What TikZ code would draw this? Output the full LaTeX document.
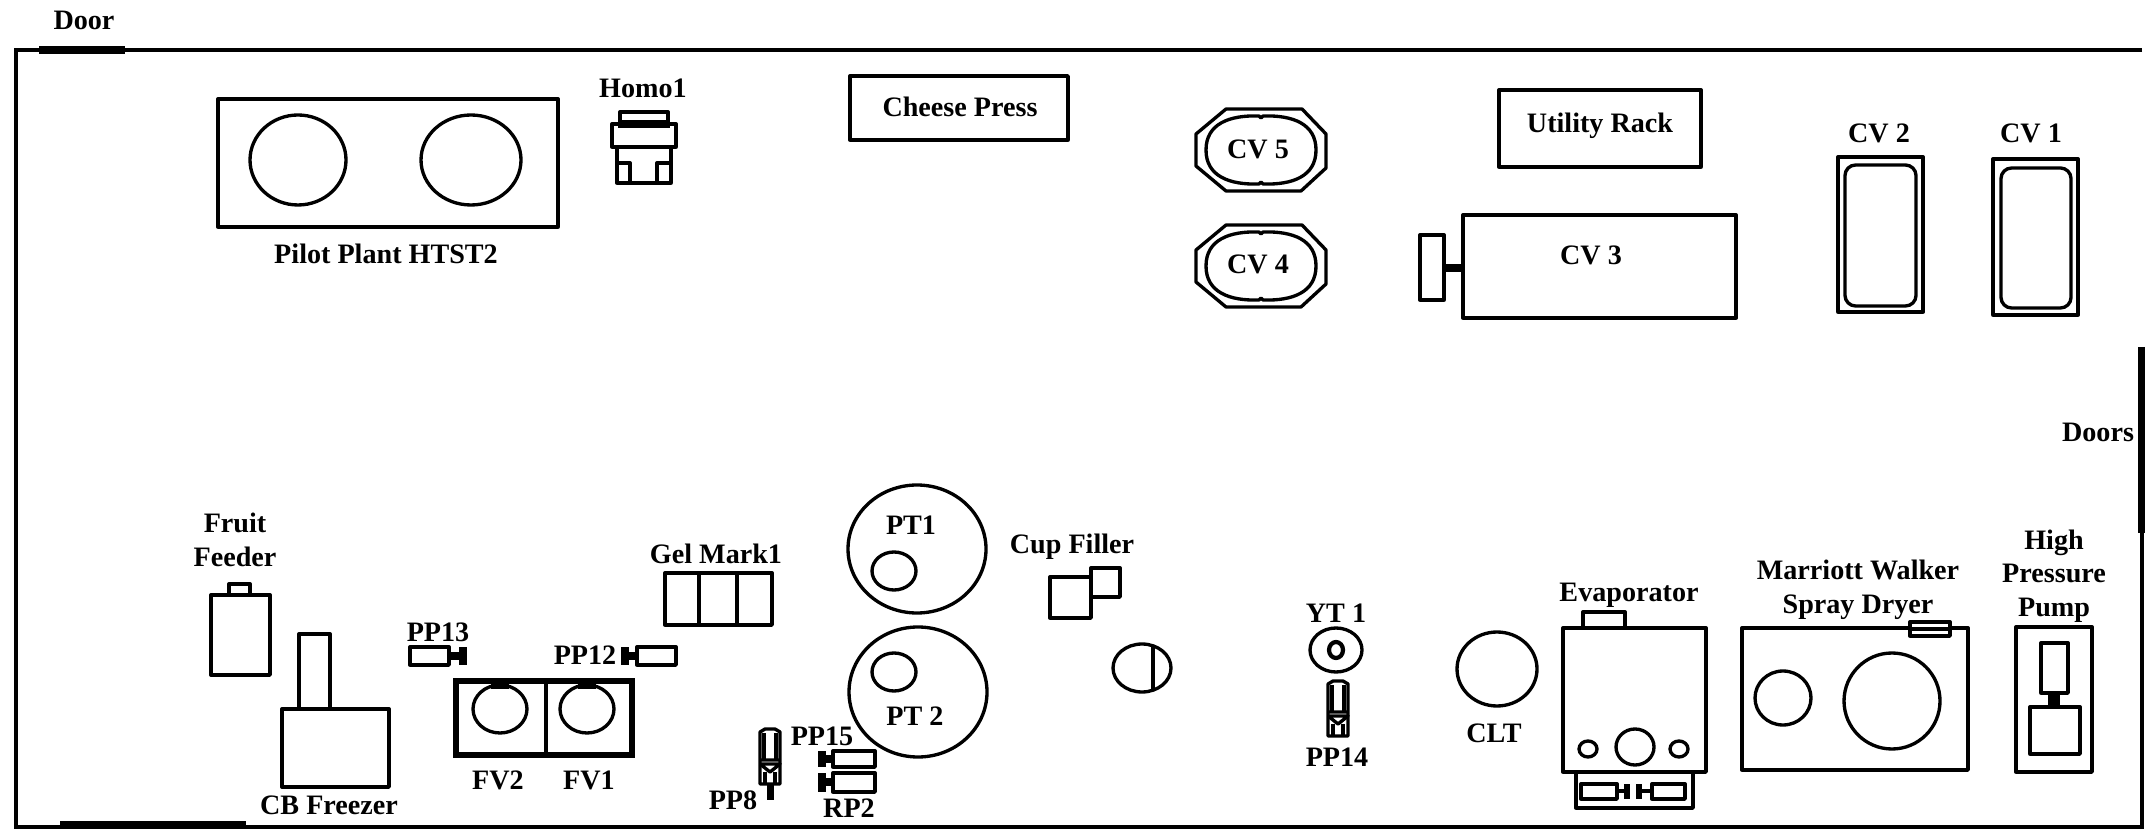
\documentclass[tikz,border=0pt]{standalone}
\usepackage{fontspec}
\setmainfont{Liberation Serif}
\tikzset{
  wall/.style={line width=1.1pt},
  doorway/.style={line width=2pt},
  unit/.style={line width=0.95pt,line join=round},
  neck/.style={line width=2.2pt},
  lbl/.style={font=\fontsize{8}{9.6}\selectfont\bfseries,inner sep=0pt,align=center},
  pics/cvpan/.style={code={
    \draw[unit] (-35,-41) -- (41,-41) -- (65,-16) -- (65,18) -- (40,41) -- (-35,41) -- (-65,16) -- (-65,-16) -- cycle;
    \draw[unit] (-55,0) .. controls (-55,-26) and (-32,-35) .. (-2,-34) -- (0,-32) -- (2,-34) .. controls (32,-35) and (55,-26) .. (55,0) .. controls (55,26) and (32,35) .. (2,34) -- (0,32) -- (-2,34) .. controls (-32,35) and (-55,26) .. (-55,0) -- cycle;
  }},
  pics/vpump/.style={code={
    \draw[unit] (-10,-25) -- (-5,-28) -- (5,-28) -- (10,-25) -- (10,27) -- (-10,27) -- cycle;
    \draw[unit] (-6,-24) -- (-6,2) (6,-24) -- (6,2);
    \draw[unit] (-10,3) -- (10,3) (-10,7) -- (10,7) -- (0,15) -- (-10,7);
    \draw[unit] (-5,15) -- (-5,27) (5,15) -- (5,27);
  }}
}
\begin{document}
\begin{tikzpicture}[x=0.01cm,y=-0.01cm]
  \useasboundingbox (0,0) rectangle (2146,831);
  \draw[wall] (2142,50) -- (16,50) -- (16,827) -- (2142,827) -- (2142,347);
  \draw[doorway] (39,50) -- (125,50);
  \draw[doorway] (60,825) -- (246,825);
  \draw[doorway] (2141,347) -- (2141,533);
  \node[lbl] (door) at (84,20) {Door};
  \node[lbl] (doors) at (2098,432) {Doors};

  \draw[unit] (218,99) rectangle (558,227);
  \draw[unit] (298,160) ellipse (48 and 45);
  \draw[unit] (471,160) ellipse (50 and 45);
  \node[lbl] (htst) at (386,254) {Pilot Plant HTST2};

  \node[lbl] (homo) at (643,88) {Homo1};
  \draw[unit] (620,125) -- (620,112) -- (668,112) -- (668,125);
  \draw[neck] (618,124) -- (670,124);
  \draw[unit] (612,124) rectangle (676,147);
  \draw[unit] (617,147) -- (617,183) -- (630,183) -- (630,163) -- (617,163);
  \draw[unit] (671,147) -- (671,183) -- (657,183) -- (657,163) -- (671,163);
  \draw[unit] (630,183) -- (657,183);

  \draw[unit] (850,76) rectangle (1068,140);
  \node[lbl] (press) at (960,107) {Cheese Press};

  \pic at (1261,150) {cvpan};
  \pic at (1261,266) {cvpan};
  \node[lbl] (cv5) at (1258,149) {CV 5};
  \node[lbl] (cv4) at (1258,264) {CV 4};

  \draw[unit] (1499,90) rectangle (1701,167);
  \node[lbl] (rack) at (1600,126) {Utility Rack};

  \draw[unit] (1463,215) rectangle (1736,318);
  \draw[unit] (1420,235) rectangle (1444,300);
  \draw[neck] (1444,268) -- (1463,268);
  \node[lbl] (cv3) at (1591,255) {CV 3};

  \draw[unit] (1838,157) rectangle (1923,312);
  \draw[unit,rounded corners=3] (1845,165) rectangle (1916,306);
  \node[lbl] (cv2) at (1879,133) {CV 2};
  \draw[unit] (1993,159) rectangle (2078,315);
  \draw[unit,rounded corners=3] (2001,168) rectangle (2071,308);
  \node[lbl] (cv1) at (2031,133) {CV 1};

  \node[lbl] (fruit) at (235,540) {Fruit\\Feeder};
  \draw[unit] (211,595) rectangle (270,675);
  \draw[unit] (229,595) rectangle (250,584);

  \draw[unit] (299,709) rectangle (330,634);
  \draw[unit] (282,709) rectangle (389,787);
  \node[lbl] (cb) at (329,805) {CB Freezer};

  \node[lbl] (pp13) at (438,632) {PP13};
  \draw[unit] (410,647) rectangle (449,665);
  \draw[neck] (449,656) -- (460,656);
  \draw[neck] (463,647) -- (463,665);

  \node[lbl] (pp12) at (585,655) {PP12};
  \draw[unit] (637,647) rectangle (676,665);
  \draw[neck] (628,656) -- (637,656);
  \draw[neck] (625,647) -- (625,665);

  \draw[line width=1.7pt] (456,681) rectangle (632,755);
  \draw[unit,line width=1.1pt] (546,681) -- (546,755);
  \draw[unit] (500,709) ellipse (27 and 24);
  \draw[unit] (587,709) ellipse (27 and 24);
  \draw[neck] (491,685) -- (509,685);
  \draw[neck] (578,685) -- (596,685);
  \node[lbl] (fv2) at (498,780) {FV2};
  \node[lbl] (fv1) at (589,780) {FV1};

  \node[lbl] (gel) at (716,554) {Gel Mark1};
  \draw[unit] (665,573) rectangle (772,625);
  \draw[unit] (699,573) -- (699,625);
  \draw[unit] (737,573) -- (737,625);

  \draw[unit] (917,549) ellipse (69 and 64);
  \draw[unit] (894,571) ellipse (22 and 19);
  \node[lbl] (pt1) at (911,525) {PT1};
  \draw[unit] (918,692) ellipse (69 and 65);
  \draw[unit] (894,672) ellipse (22 and 19);
  \node[lbl] (pt2) at (915,716) {PT 2};

  \node[lbl] (cup) at (1072,547) {Cup Filler};
  \draw[unit] (1050,577) rectangle (1091,618);
  \draw[unit] (1091,568) rectangle (1120,597);
  \draw[unit] (1142,668) ellipse (29 and 24);
  \draw[unit] (1153,646) -- (1153,690);

  \pic at (770,757) {vpump};
  \draw[neck] (770.5,785) -- (770.5,800);
  \node[lbl] (pp8) at (733,800) {PP8};
  \node[lbl] (pp15) at (822,736) {PP15};
  \draw[unit] (833,751) rectangle (875,767);
  \draw[neck] (825,759) -- (833,759);
  \draw[neck] (822,751) -- (822,767);
  \draw[unit] (833,773) rectangle (875,792);
  \draw[neck] (825,782) -- (833,782);
  \draw[neck] (822,773) -- (822,792);
  \node[lbl] (rp2) at (849,808) {RP2};

  \node[lbl] (yt1) at (1336,613) {YT 1};
  \draw[unit] (1336,650) ellipse (26 and 22);
  \draw[unit,line width=1.2pt] (1336,650) ellipse (7 and 8);
  \pic at (1338,709) {vpump};
  \node[lbl] (pp14) at (1337,757) {PP14};

  \draw[unit] (1497,669) ellipse (40 and 37);
  \node[lbl] (clt) at (1494,733) {CLT};

  \node[lbl] (evap) at (1629,595) {Evaporator};
  \draw[unit] (1583,628) rectangle (1625,612);
  \draw[unit] (1563,628) rectangle (1706,772);
  \draw[unit] (1635,747) ellipse (19 and 18);
  \draw[unit] (1588,749) ellipse (9 and 8);
  \draw[unit] (1679,749) ellipse (9 and 8);
  \draw[unit] (1576,772) -- (1576,808) -- (1693,808) -- (1693,772);
  \draw[unit] (1581,784) rectangle (1617,799);
  \draw[neck,line width=1.2pt] (1617,791) -- (1624,791);
  \draw[neck,line width=1.6pt] (1627,784) -- (1627,799);
  \draw[unit] (1652,784) rectangle (1685,799);
  \draw[neck,line width=1.2pt] (1642,791) -- (1652,791);
  \draw[neck,line width=1.6pt] (1639,784) -- (1639,799);

  \node[lbl] (dryer) at (1858,590) {Marriott Walker\\Spray Dryer};
  \draw[unit] (1742,628) rectangle (1968,770);
  \draw[unit,fill=white] (1910,622) rectangle (1950,636);
  \draw[unit] (1910,629) -- (1950,629);
  \draw[unit] (1783,698) ellipse (28 and 27);
  \draw[unit] (1892,701) ellipse (48 and 48);

  \node[lbl] (hpp) at (2054,576) {High\\Pressure\\Pump};
  \draw[unit] (2016,627) rectangle (2092,772);
  \draw[unit] (2041,643) rectangle (2068,693);
  \draw[unit] (2030,707) rectangle (2080,754);
  \draw[line width=3.4pt] (2054,693) -- (2054,707);
\end{tikzpicture}
\end{document}
